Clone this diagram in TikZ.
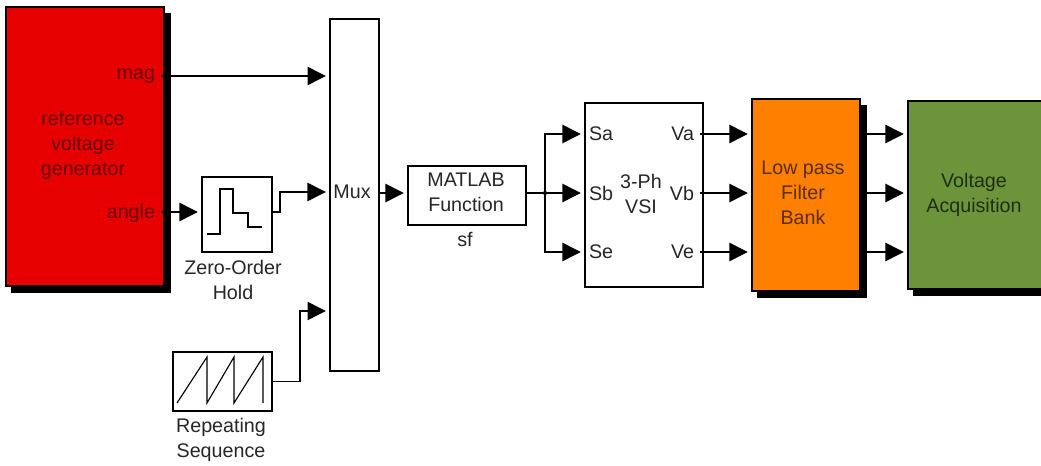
\documentclass[tikz,border=0pt]{standalone}
\usepackage{fontspec}
\setmainfont{Liberation Sans}
\usepackage{xcolor}
\usetikzlibrary{arrows.meta,shadows}
\definecolor{genred}{HTML}{E60000}
\definecolor{filterorange}{HTML}{FF8000}
\definecolor{acqgreen}{HTML}{6B943B}
\definecolor{redtext}{HTML}{6A0000}
\definecolor{orangetext}{HTML}{5A2D00}
\definecolor{greentext}{HTML}{1E2E10}
\definecolor{labeltext}{HTML}{262626}

\begin{document}
\begin{tikzpicture}[x=0.025cm,y=-0.025cm,>={Triangle[length=13pt,width=13pt]},
  blk/.style={draw=black,line width=1pt,fill=white,inner sep=0pt,outer sep=0pt},
  subsys/.style={blk,copy shadow={shadow xshift=0.15cm,shadow yshift=-0.16cm,fill=black,draw=black}},
  lbl/.style={inner sep=0pt,outer sep=0pt,align=center,font=\fontsize{14}{17.8}\selectfont},
  sig/.style={->,line width=1pt,shorten >=3pt},
  wire/.style={line width=1pt}]
\clip (0,0) rectangle (1041,466);
% blocks
\node[subsys,fill=genred,minimum width=3.95cm,minimum height=6.975cm] (gen) at (85,146.5) {};
\node[blk,minimum width=1.225cm,minimum height=8.8cm] (mux) at (354.5,195) {};
\node[blk,minimum width=1.75cm,minimum height=1.875cm] (zoh) at (237,214.5) {};
\node[blk,minimum width=2.475cm,minimum height=1.475cm] (rep) at (222.5,381.5) {};
\node[blk,minimum width=2.95cm,minimum height=1.475cm] (sf) at (467,195.5) {};
\node[blk,minimum width=2.95cm,minimum height=4.6cm] (vsi) at (644,195) {};
\node[subsys,fill=filterorange,minimum width=2.7cm,minimum height=4.8cm] (filter) at (806,195) {};
\node[subsys,fill=acqgreen,minimum width=3.75cm,minimum height=4.7cm] (acq) at (983,195) {};
% icons
\draw[line width=0.9pt] (207,234) -- (220,234) -- (220,189) -- (233,189) -- (233,213) -- (248,213) -- (248,227) -- (262,227);
\draw[line width=0.8pt] (177,403) -- (207,357) -- (207,403) -- (234,357) -- (234,403) -- (263,357) -- (263,403);
% text
\node[lbl,text=redtext] (gentext) at (83,145.5) {reference\\voltage\\generator};
\node[lbl,text=redtext,anchor=east] (mag) at (155,76) {mag};
\node[lbl,text=redtext,anchor=east] (angle) at (155,213) {angle};
\node[lbl,text=labeltext] (zohtext) at (233,279.5) {Zero-Order\\Hold};
\node[lbl,text=labeltext] (reptext) at (221,440) {Repeating\\Sequence};
\node[lbl,text=labeltext] (muxtext) at (352,192) {Mux};
\node[lbl,text=labeltext] (sftext) at (466,192.5) {MATLAB\\Function};
\node[lbl,text=labeltext] (sfname) at (465,239) {sf};
\node[lbl,text=labeltext] (vsitext) at (641,193.5) {3-Ph\\VSI};
\node[lbl,text=labeltext,anchor=west] (sa) at (589,134) {Sa};
\node[lbl,text=labeltext,anchor=west] (sb) at (589,193) {Sb};
\node[lbl,text=labeltext,anchor=west] (se) at (589,252) {Se};
\node[lbl,text=labeltext,anchor=east] (va) at (694,134) {Va};
\node[lbl,text=labeltext,anchor=east] (vb) at (694,193) {Vb};
\node[lbl,text=labeltext,anchor=east] (ve) at (694,252) {Ve};
\node[lbl,text=orangetext] (filtertext) at (803,192.5) {Low pass\\Filter\\Bank};
\node[lbl,text=greentext] (acqtext) at (974,195) {Voltage\\Acquisition};
% connectors
\draw[sig,shorten <=4pt] (mag.east |- 0,76) -- (330,76);
\draw[sig,shorten <=4pt] (angle.east |- 0,212) -- (zoh.west |- 0,212);
\draw[sig] (zoh.east |- 0,212) -- ++(8,0) |- (muxtext -| mux.west);
\draw[sig] (rep.east) -- ++(28,0) |- (330,311);
\draw[sig] (mux.east |- sb) -- (sb -| sf.west);
\draw[wire] (sb -| sf.east) -- ++(19,0) coordinate (branch);
\fill (branch) circle (1.5pt);
\draw[sig] (branch) |- (sa -| vsi.west);
\draw[sig] (branch) -- (sb -| vsi.west);
\draw[sig] (branch) |- (se -| vsi.west);
\draw[sig,shorten <=4pt] (va.east) -- (va -| filter.west);
\draw[sig,shorten <=4pt] (vb.east) -- (vb -| filter.west);
\draw[sig,shorten <=4pt] (ve.east) -- (ve -| filter.west);
\draw[sig] (va -| filter.east) -- (va -| acq.west);
\draw[sig] (vb -| filter.east) -- (vb -| acq.west);
\draw[sig] (ve -| filter.east) -- (ve -| acq.west);
\end{tikzpicture}
\end{document}
